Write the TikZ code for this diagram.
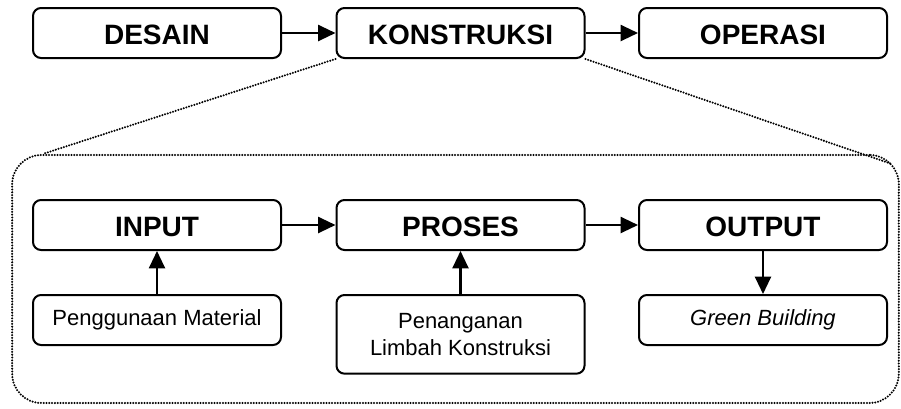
\documentclass[tikz,border=0pt]{standalone}
\usepackage{fontspec}
\setmainfont{Liberation Sans}
\usetikzlibrary{arrows.meta}
\tikzset{box/.style = {draw, fill=white, line width=1.5pt, rectangle, rounded corners=6pt, minimum height=37.5pt, minimum width=186pt},
         block/.style = {box, text height=18pt, font=\fontsize{21}{25}\selectfont\bfseries},
         sub/.style = {box, font=\fontsize{16.5}{20}\selectfont, align=center},
         dots/.style = {line width=1.7pt, line cap=round, dash pattern=on 0pt off 2.1pt},
         zone/.style = {draw, dots, rounded corners=22pt, minimum width=665pt, minimum height=186pt}}

\begin{document}
\begin{tikzpicture}[x=0.75pt, y=-0.75pt, >={Triangle[length=13pt,width=12pt]}]
    \useasboundingbox(0,0)rectangle(901,408);
    \node[zone](ruang)at(455.5,279){};
    \node[block](desain)at(157,33){DESAIN};
    \node[block](konstruksi)at(460.5,33){KONSTRUKSI};
    \node[block](operasi)at(763,33){OPERASI};
    \draw[line width=1.6pt,->](desain)--(konstruksi);
    \draw[line width=1.6pt,->](konstruksi)--(operasi);
    \draw[dots](konstruksi.south west)--([xshift=24pt]ruang.north west);
    \draw[dots](konstruksi.south east)--([xshift=-6.5pt,yshift=-7.5pt]ruang.north east);
    \node[block](input)at(157,225){INPUT};
    \node[block](proses)at(460.5,225){PROSES};
    \node[block](output)at(763,225){OUTPUT};
    \node[sub,anchor=north](material)at(157,294){Penggunaan Material};
    \node[sub,anchor=north,minimum height=59pt](limbah)at(460.5,294){Penanganan\\Limbah Konstruksi};
    \node[sub,anchor=north](green)at(763,294){\itshape Green Building};
    \draw[line width=1.6pt,->](input)--(proses);
    \draw[line width=1.6pt,->](proses)--(output);
    \draw[line width=1.6pt,->](material)--(input);
    \draw[line width=1.6pt,->](limbah)--(proses);
    \draw[line width=1.6pt,->](output)--(green);
\end{tikzpicture}
\end{document}
